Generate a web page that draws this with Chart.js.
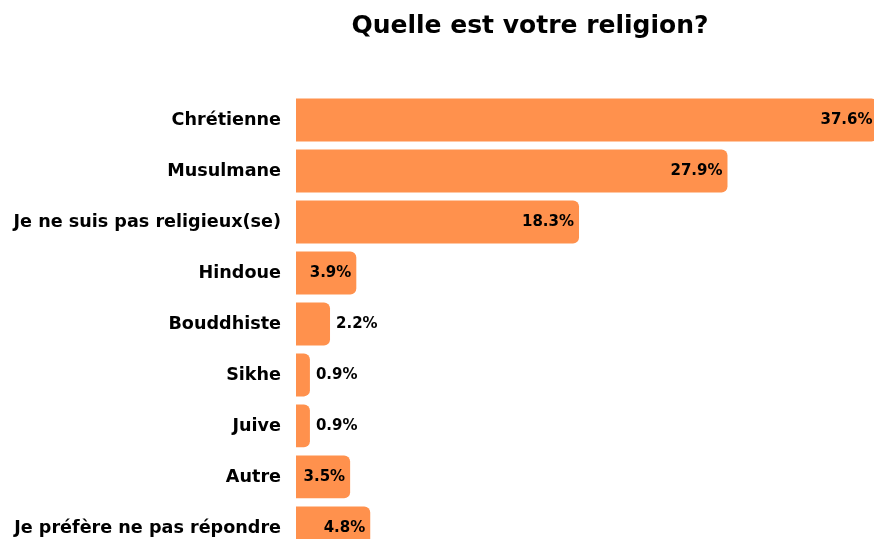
<!DOCTYPE html>
<html>
<head>
<meta charset="utf-8">
<script src="https://cdn.jsdelivr.net/npm/chart.js@4.4.0/dist/chart.umd.min.js"></script>
<style>
  html, body { margin: 0; padding: 0; background: #fff; overflow: hidden; width: 874px; height: 539px; }
  canvas { display: block; }
</style>
</head>
<body>
<canvas id="religionChart" width="1060" height="579"></canvas>
<script>
var categories = ['Chrétienne', 'Musulmane', 'Je ne suis pas religieux(se)', 'Hindoue', 'Bouddhiste', 'Sikhe', 'Juive', 'Autre', 'Je préfère ne pas répondre'];
var percents = [37.6, 27.9, 18.3, 3.9, 2.2, 0.9, 0.9, 3.5, 4.8];

var fontFamily = '"DejaVu Sans", sans-serif';

// value labels: inside the bar end when they fit, outside otherwise
var valueLabels = {
    id: 'valueLabels',
    afterDatasetsDraw: function(chart) {
        var ctx = chart.ctx;
        var meta = chart.getDatasetMeta(0);
        ctx.save();
        ctx.font = 'bold 15px ' + fontFamily;
        ctx.fillStyle = '#000';
        ctx.textBaseline = 'middle';
        meta.data.forEach(function(bar, i) {
            var text = percents[i].toFixed(1) + '%';
            var w = ctx.measureText(text).width;
            var barW = bar.x - bar.base;
            if (barW > w + 8) {
                ctx.textAlign = 'right';
                ctx.fillText(text, bar.x - 5, bar.y);
            } else {
                ctx.textAlign = 'left';
                ctx.fillText(text, bar.x + 6, bar.y);
            }
        });
        ctx.restore();
    }
};

var religionChartCanvas = document.getElementById('religionChart').getContext('2d');
var religionChart = new Chart(religionChartCanvas, {
    type: 'bar',
    data: {
        labels: categories,
        datasets: [{
            label: 'Religion',
            data: percents,
            backgroundColor: '#FF914D',
            borderWidth: 0,
            borderRadius: 6,
            barPercentage: 0.84,
            categoryPercentage: 1,
        }],
    },
    options: {
        indexAxis: 'y',
        responsive: false,
        maintainAspectRatio: false,
        animation: false,
        layout: { padding: 0 },
        plugins: {
            legend: { display: false },
            tooltip: { enabled: false },
            title: {
                display: true,
                text: 'Quelle est votre religion?',
                color: '#000',
                font: { family: fontFamily, size: 25, weight: 'bold' },
                padding: { top: 11, bottom: 53.5 },
            },
        },
        scales: {
            x: {
                display: false,
                min: 0,
                max: 49.4,
            },
            y: {
                grid: { display: false, drawTicks: false },
                border: { display: false },
                ticks: {
                    color: '#000',
                    padding: 15,
                    font: { family: fontFamily, size: 17.6, weight: 'bold' },
                },
                afterFit: function(scale) { scale.width = 296; },
            },
        },
    },
    plugins: [valueLabels],
});
</script>
</body>
</html>
